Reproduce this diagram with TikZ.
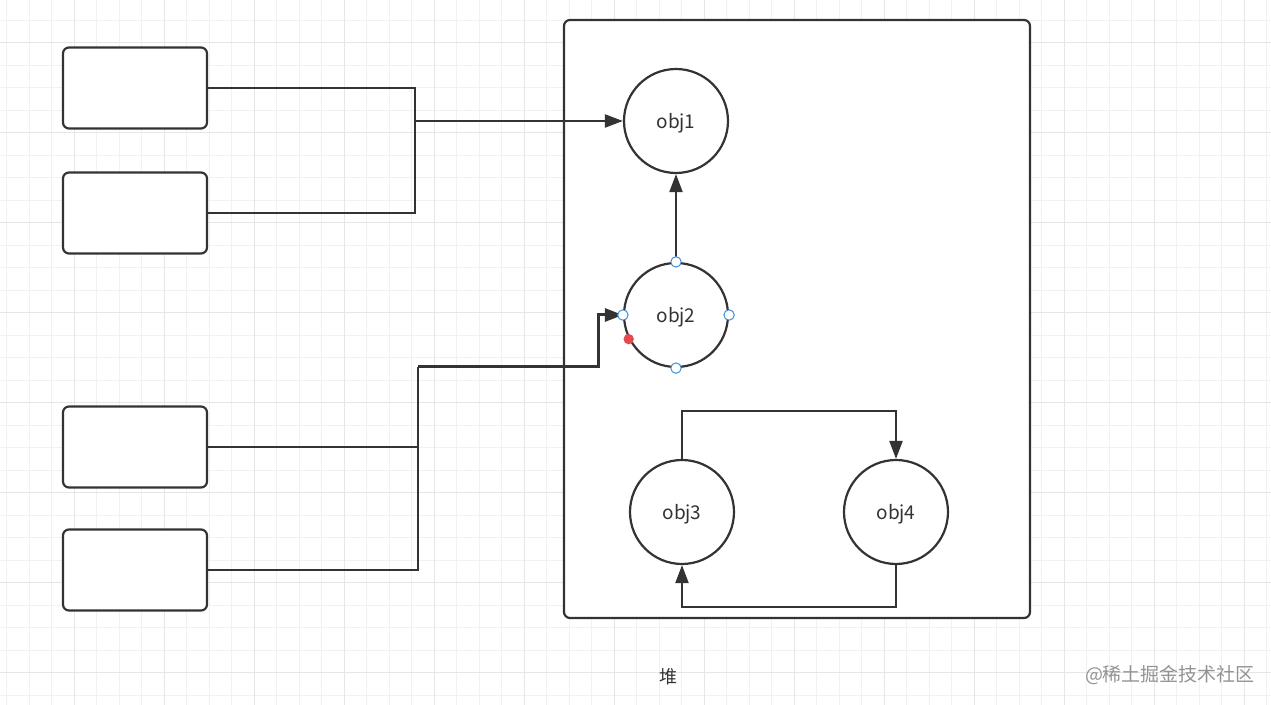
\documentclass[tikz,border=0pt]{standalone}
\usepackage{fontspec}
\setmainfont{Noto Sans CJK SC}
\usepackage{tikz}
\usetikzlibrary{positioning, arrows.meta}
\usepackage{xcolor}
\definecolor{linegray}{HTML}{333333}
\definecolor{gridminor}{HTML}{F1F1F1}
\definecolor{gridmajor}{HTML}{E6E6E6}
\definecolor{handleblue}{HTML}{3C8FE0}
\definecolor{dotred}{HTML}{E5484D}

\begin{document}
\begin{tikzpicture}[x=0.5pt, y=-0.5pt, >={Triangle[length=9pt, width=6.5pt]}, line width=1pt, draw=linegray, text=linegray]
    % Estilos
    \tikzset{
        caja/.style={draw=linegray, fill=white, rectangle, rounded corners=3pt, minimum width=72pt, minimum height=40.5pt, line width=1.1pt},
        objeto/.style={draw=linegray, fill=white, circle, minimum size=52pt, inner sep=0pt, text height=9.5pt, text depth=1.5pt, font=\fontsize{9.5}{11}\selectfont, line width=1.1pt},
        flecha/.style={->, draw=linegray, line width=1.1pt},
        asa/.style={draw=handleblue, fill=white, line width=0.5pt}
    }
    \useasboundingbox (0,0) rectangle (1271,705);
    \fill[white] (0,0) rectangle (1271,705);

    % Cuadricula de fondo
    \foreach \gx in {0,...,56} {
        \draw[gridminor, line width=0.5pt] (6.5+22.5*\gx,0) -- (6.5+22.5*\gx,705);
    }
    \foreach \gy in {0,...,31} {
        \draw[gridminor, line width=0.5pt] (0,20.5+22.5*\gy) -- (1271,20.5+22.5*\gy);
    }
    \foreach \gx in {0,...,14} {
        \draw[gridmajor, line width=0.5pt] (74+90*\gx-90,0) -- (74+90*\gx-90,705);
    }
    \foreach \gy in {0,...,8} {
        \draw[gridmajor, line width=0.5pt] (0,43+90*\gy-90) -- (1271,43+90*\gy-90);
    }

    % Definicion de bloques
    \node [draw=linegray, fill=white, rectangle, rounded corners=3pt, minimum width=233pt, minimum height=299pt, line width=1.1pt] (heap) at (797,319) {};
    \node [caja] (box1) at (135,88) {};
    \node [caja] (box2) at (135,213) {};
    \node [caja] (box3) at (135,447) {};
    \node [caja] (box4) at (135,570) {};

    \node [objeto] (obj1) at (676,121) {obj1};
    \node [objeto] (obj2) at (676,315) {obj2};
    \node [objeto] (obj3) at (682,512) {obj3};
    \node [objeto] (obj4) at (896,512) {obj4};

    \coordinate (union1) at (415,121);
    \coordinate (union2) at (418,367);

    % Flechas
    \draw [line width=1.1pt] (box1.east) -| (union1);
    \draw [line width=1.1pt] (box2.east) -| (union1);
    \draw [flecha] (union1) -- (obj1.west);
    \draw [line width=1.1pt] (box3.east) -| (union2);
    \draw [line width=1.1pt] (box4.east) -| (union2);
    \draw [flecha, line width=1.5pt] (union2) -| ([xshift=-12pt]obj2.west) -- (obj2.west);
    \draw [flecha] (obj2.north) -- (obj1.south);
    \draw [flecha] (obj3.north) -- ++(0,-48) -| (obj4.north);
    \draw [flecha] (obj4.south) -- ++(0,42) -| (obj3.south);

    % Asas de seleccion
    \foreach \punto in {north, south, east, west} {
        \draw [asa] (obj2.\punto) circle (2.6pt);
    }
    \fill [dotred] (obj2.207) circle (2.6pt);

    % Textos
    \node [font=\fontsize{9}{11}\selectfont] (etiqueta) at (668,677) {堆};
    \node [font=\fontsize{9.5}{11}\selectfont, text=gray!85] (marca) at (1170,675) {@稀土掘金技术社区};
\end{tikzpicture}
\end{document}
